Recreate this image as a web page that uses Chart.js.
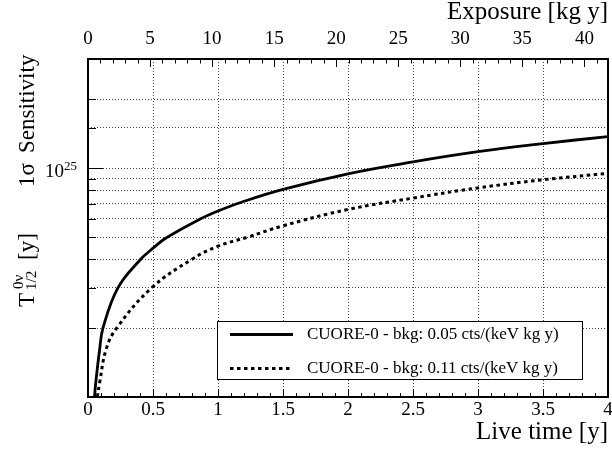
<!DOCTYPE html>
<html>
<head>
<meta charset="utf-8">
<script src="https://cdn.jsdelivr.net/npm/chart.js@4.4.1/dist/chart.umd.min.js"></script>
<style>
  html, body { margin: 0; padding: 0; background: #fff; }
  #wrap { width: 612px; height: 459px; }
</style>
</head>
<body>
<div id="wrap"><canvas id="chart" width="612" height="459"></canvas></div>
<script>
// live time [y] and 1 sigma sensitivity [1e24 y]
const liveTimeLow = [0.05, 0.06, 0.09, 0.115, 0.23, 0.4, 0.5, 0.6, 0.87, 1.0, 1.18, 1.5, 2.0, 2.5, 3.0, 3.5, 4.0];
const sensLow = [1.0, 1.16, 1.62, 2.0, 3.0, 3.97, 4.47, 4.95, 6.02, 6.5, 7.1, 8.08, 9.45, 10.65, 11.8, 12.8, 13.75];

const liveTimeHigh = [0.072, 0.09, 0.14, 0.22, 0.49, 0.8, 1.0, 1.23, 1.5, 2.0, 2.5, 3.0, 3.5, 4.0];
const sensHigh = [1.0, 1.16, 1.62, 2.0, 3.0, 4.0, 4.56, 5.0, 5.6, 6.6, 7.4, 8.2, 8.9, 9.5];

const seriesLabels = ['CUORE-0 - bkg: 0.05 cts/(keV kg y)', 'CUORE-0 - bkg: 0.11 cts/(keV kg y)'];

const liveTimeRange = [0, 4];
const exposureRange = [0, 41.9];
const sensRange = [1e24, 3e25];

const SERIF = '"Liberation Serif", "Times New Roman", serif';
Chart.defaults.font.family = SERIF;
Chart.defaults.color = '#000';

const toPoints = (xs, ys) => xs.map((x, i) => ({ x: x, y: ys[i] * 1e24 }));
const plainNum = v => String(+Number(v).toFixed(2));

// ROOT style frame, inward ticks, legend and the y title with sub/superscripts
const rootFrame = {
  id: 'rootFrame',
  afterDatasetsDraw(chart) {
    const { ctx, chartArea: a, scales } = chart;
    ctx.save();
    ctx.strokeStyle = '#000';
    ctx.lineWidth = 1;
    ctx.beginPath();
    for (let i = 0; i <= 40; i++) {
      const px = Math.round(scales.x.getPixelForValue(i / 10)) + 0.5;
      const len = i % 5 === 0 ? 8 : 4;
      ctx.moveTo(px, a.bottom);
      ctx.lineTo(px, a.bottom - len);
    }
    for (let i = 0; i <= 41; i++) {
      const px = Math.round(scales.x2.getPixelForValue(i)) + 0.5;
      const len = i % 5 === 0 ? 8 : 4.5;
      ctx.moveTo(px, a.top);
      ctx.lineTo(px, a.top + len);
    }
    scales.y.ticks.forEach(t => {
      const py = Math.round(scales.y.getPixelForValue(t.value)) + 0.5;
      const m = Math.round(t.value / Math.pow(10, Math.floor(Math.log10(t.value) + 1e-9)));
      const len = m === 1 ? 15 : 8;
      ctx.moveTo(a.left, py);
      ctx.lineTo(a.left + len, py);
    });
    ctx.stroke();

    ctx.lineWidth = 2;
    ctx.strokeRect(a.left, a.top, a.right - a.left, a.bottom - a.top);

    // y tick label 10^25
    const p25 = scales.y.getPixelForValue(1e25);
    ctx.fillStyle = '#000';
    ctx.textBaseline = 'middle';
    ctx.textAlign = 'right';
    ctx.font = '19px ' + SERIF;
    ctx.fillText('10', 64, p25 + 4);
    ctx.textAlign = 'left';
    ctx.font = '13px ' + SERIF;
    ctx.fillText('25', 64, p25 - 2);

    // legend
    const lx = 217, ly = 321, lw = 365, lh = 58;
    ctx.fillStyle = '#fff';
    ctx.fillRect(lx, ly, lw, lh);
    ctx.lineWidth = 1;
    ctx.strokeStyle = '#000';
    ctx.strokeRect(lx + 0.5, ly + 0.5, lw, lh);
    const rows = [334.5, 368.5];
    chart.data.datasets.forEach((ds, i) => {
      ctx.save();
      ctx.lineWidth = ds.borderWidth;
      ctx.setLineDash(ds.borderDash || []);
      ctx.beginPath();
      ctx.moveTo(230, rows[i]);
      ctx.lineTo(293, rows[i]);
      ctx.stroke();
      ctx.restore();
      ctx.fillStyle = '#000';
      ctx.font = '17px ' + SERIF;
      ctx.textAlign = 'left';
      ctx.textBaseline = 'middle';
      ctx.fillText(ds.label, 307, rows[i]);
    });

    // y axis title
    ctx.translate(34, 307);
    ctx.rotate(-Math.PI / 2);
    ctx.textBaseline = 'alphabetic';
    ctx.textAlign = 'left';
    ctx.fillStyle = '#000';
    ctx.font = '23px ' + SERIF;
    ctx.fillText('T', 0, 0);
    ctx.font = '15px ' + SERIF;
    ctx.fillText('0\u03bd', 18, -11);
    ctx.fillText('1/2', 17, 2);
    ctx.font = '23px ' + SERIF;
    ctx.fillText('[y]', 47, 0);
    ctx.fillText('1\u03c3', 120, 0);
    ctx.fillText('Sensitivity', 154, 0);
    ctx.restore();
  }
};

new Chart(document.getElementById('chart'), {
  type: 'line',
  data: {
    datasets: [
      {
        label: seriesLabels[0],
        data: toPoints(liveTimeLow, sensLow),
        borderColor: '#000',
        borderWidth: 2.8,
        pointRadius: 0,
        tension: 0.4,
        fill: false,
        xAxisID: 'x',
        yAxisID: 'y'
      },
      {
        label: seriesLabels[1],
        data: toPoints(liveTimeHigh, sensHigh),
        borderColor: '#000',
        borderWidth: 3,
        borderDash: [3.5, 3.5],
        pointRadius: 0,
        tension: 0.4,
        fill: false,
        xAxisID: 'x',
        yAxisID: 'y'
      }
    ]
  },
  options: {
    responsive: false,
    animation: false,
    layout: { padding: { left: 0, right: 0, top: 0, bottom: 0 } },
    plugins: {
      legend: { display: false },
      tooltip: { enabled: false }
    },
    scales: {
      x: {
        type: 'linear',
        position: 'bottom',
        min: liveTimeRange[0],
        max: liveTimeRange[1],
        ticks: { stepSize: 0.5, font: { size: 19, family: SERIF }, padding: 2, maxRotation: 0, autoSkip: false, includeBounds: false, callback: plainNum },
        grid: { color: '#444', lineWidth: 1, drawTicks: false },
        border: { display: false, dash: [1, 2] },
        title: { display: true, text: 'Live time [y]', align: 'end', font: { size: 25, lineHeight: 1, family: SERIF }, padding: { top: 0, bottom: 14 } },
        afterFit: s => { s.height = 62; s.paddingRight = 4; }
      },
      x2: {
        type: 'linear',
        position: 'top',
        min: exposureRange[0],
        max: exposureRange[1],
        ticks: { stepSize: 5, font: { size: 19, family: SERIF }, padding: 9, maxRotation: 0, autoSkip: false, includeBounds: false, callback: plainNum },
        grid: { display: false, drawTicks: false },
        border: { display: false },
        title: { display: true, text: 'Exposure [kg y]', align: 'end', font: { size: 25, lineHeight: 1, family: SERIF }, padding: { top: 0, bottom: 0 } },
        afterFit: s => { s.height = 59; s.paddingRight = 4; }
      },
      y: {
        type: 'logarithmic',
        min: sensRange[0],
        max: sensRange[1],
        ticks: { display: false, autoSkip: false },
        grid: { color: '#444', lineWidth: 1, drawTicks: false },
        border: { display: false, dash: [1, 2] },
        afterFit: s => { s.width = 88; }
      }
    }
  },
  plugins: [rootFrame]
});
</script>
</body>
</html>
